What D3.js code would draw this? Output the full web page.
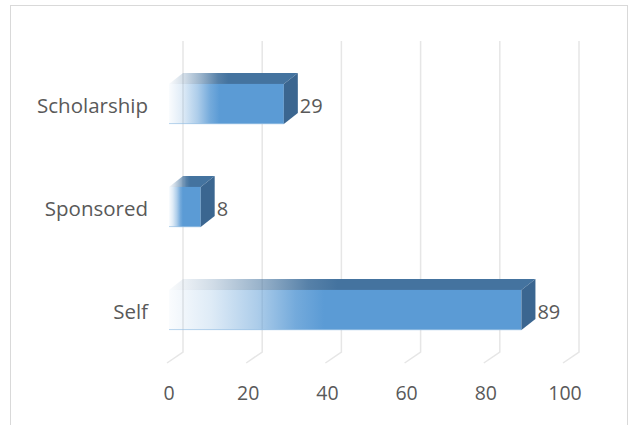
<!DOCTYPE html>
<html><head><meta charset="utf-8">
<script src="https://cdn.jsdelivr.net/npm/d3@7"></script>
<style>html,body{margin:0;padding:0;background:#fff;}svg{display:block;}</style>
</head><body>
<svg id="c" width="636" height="425"></svg>
<script>
const categories = ["Scholarship", "Sponsored", "Self"];
const values = [29, 8, 89];
const tickValues = [0, 20, 40, 60, 80, 100];

const svg = d3.select("#c");
const font = "'Open Sans', 'Noto Sans', sans-serif";
const textColor = "#595959";
const DX = 14, DY = -11;

// chart border
svg.append("rect").attr("x", 10.5).attr("y", 5.5).attr("width", 617).attr("height", 440)
  .attr("fill", "#fff").attr("stroke", "#d9d9d9").attr("stroke-width", 1);

const x = d3.scaleLinear().domain([0, 100]).range([169, 565]);
const y = d3.scaleBand().domain(categories).range([52.5, 361.5]).paddingInner(0.61).paddingOuter(0.305);

const defs = svg.append("defs");
const gFront = defs.append("linearGradient").attr("id", "gf").attr("x1", "0").attr("x2", "1").attr("y1", "0").attr("y2", "0");
[[0, 0.03], [0.12, 0.2], [0.25, 0.5], [0.36, 0.85], [0.44, 1], [1, 1]].forEach(([o, a]) =>
  gFront.append("stop").attr("offset", o).attr("stop-color", "#5b9bd5").attr("stop-opacity", a));
const gTop = defs.append("linearGradient").attr("id", "gt").attr("x1", "0").attr("x2", "1").attr("y1", "0").attr("y2", "0");
[[0, 0.03], [0.12, 0.25], [0.25, 0.55], [0.38, 0.9], [0.46, 1], [1, 1]].forEach(([o, a]) =>
  gTop.append("stop").attr("offset", o).attr("stop-color", "#44739f").attr("stop-opacity", a));

// gridlines (back wall + floor diagonal)
const grid = svg.append("g");
const gridTop = 41, gridBottom = 352;
tickValues.forEach(v => {
  const xb = x(v) + DX;
  grid.append("path")
    .attr("d", `M${xb},${gridTop} L${xb},${gridBottom} L${xb - 16},${gridBottom + 11}`)
    .attr("fill", "none").attr("stroke", "#e6e6e6").attr("stroke-width", 1.5);
});

// bars
const bars = svg.append("g");
categories.forEach((c, i) => {
  const v = values[i];
  const x0 = x(0), x1 = x(v);
  const top = y(c), h = y.bandwidth(), bot = top + h;
  bars.append("path")
    .attr("d", `M${x0},${top} L${x1},${top} L${x1 + DX},${top + DY} L${x0 + DX},${top + DY} Z`)
    .attr("fill", "url(#gt)");
  bars.append("rect").attr("x", x0).attr("y", top).attr("width", x1 - x0).attr("height", h)
    .attr("fill", "url(#gf)");
  bars.append("line").attr("x1", x0).attr("x2", x1).attr("y1", bot - 0.5).attr("y2", bot - 0.5)
    .attr("stroke", "#9dc3e6").attr("stroke-width", 1).attr("stroke-opacity", 0.7);
  bars.append("path")
    .attr("d", `M${x1},${top} L${x1 + DX},${top + DY} L${x1 + DX},${bot + DY} L${x1},${bot} Z`)
    .attr("fill", "#3b6690");
  bars.append("text").attr("x", x1 + DX + 2).attr("y", top + h / 2 + 1)
    .attr("dominant-baseline", "central")
    .attr("font-family", font).attr("font-size", 20).attr("fill", textColor).text(v);
  svg.append("text").attr("x", 148).attr("y", top + h / 2 + 1)
    .attr("text-anchor", "end").attr("dominant-baseline", "central")
    .attr("font-family", font).attr("font-size", 20.5).attr("fill", textColor).text(c);
});

// x tick labels
tickValues.forEach(v => {
  svg.append("text").attr("x", x(v)).attr("y", 392)
    .attr("text-anchor", "middle").attr("dominant-baseline", "central")
    .attr("font-family", font).attr("font-size", 19.5).attr("fill", textColor).text(v);
});
</script>
</body></html>
